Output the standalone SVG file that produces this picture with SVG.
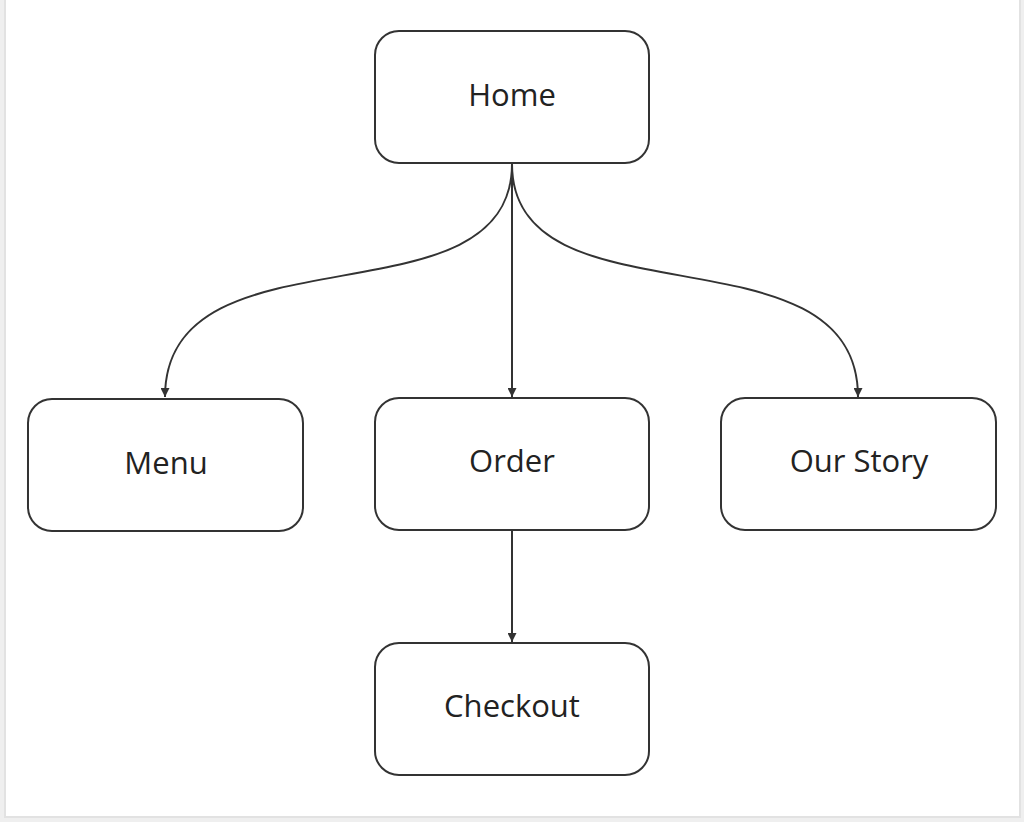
<svg xmlns="http://www.w3.org/2000/svg" width="1024" height="822" viewBox="0 0 1024 822">
<style>
.node rect{fill:#fff;stroke:#333;stroke-width:2}
.node text{font-family:"Open Sans","Noto Sans",sans-serif;font-size:31px;fill:#222;text-anchor:middle}
.edge{fill:none;stroke:#333;stroke-width:2}
</style>
<defs>
<marker id="arr" viewBox="0 0 10 10" refX="10" refY="5" markerWidth="4.5" markerHeight="4.5" orient="auto" markerUnits="strokeWidth">
<path d="M0,0 L10,5 L0,10 z" fill="#333"/>
</marker>
</defs>
<rect x="0" y="0" width="1024" height="822" fill="#efefef"/>
<rect x="5" y="-2" width="1015" height="819" fill="#fff" stroke="#e2e2e2" stroke-width="2"/>
<g id="connectors">
<path class="edge" d="M512,164 C512,330 165,220 165,397" marker-end="url(#arr)"/>
<path class="edge" d="M512,164 C512,330 858,220 858,397" marker-end="url(#arr)"/>
<path class="edge" d="M512,164 L512,397" marker-end="url(#arr)"/>
<path class="edge" d="M512,531 L512,642" marker-end="url(#arr)"/>
</g>
<g id="home" class="node"><rect x="375" y="31" width="274" height="132" rx="24"/><text x="512" y="106">Home</text></g>
<g id="menu" class="node"><rect x="28" y="399" width="275" height="132" rx="24"/><text x="166" y="474">Menu</text></g>
<g id="order" class="node"><rect x="375" y="398" width="274" height="132" rx="24"/><text x="512" y="472">Order</text></g>
<g id="ourstory" class="node"><rect x="721" y="398" width="275" height="132" rx="24"/><text x="859" y="472">Our Story</text></g>
<g id="checkout" class="node"><rect x="375" y="643" width="274" height="132" rx="24"/><text x="512" y="717">Checkout</text></g>
</svg>
